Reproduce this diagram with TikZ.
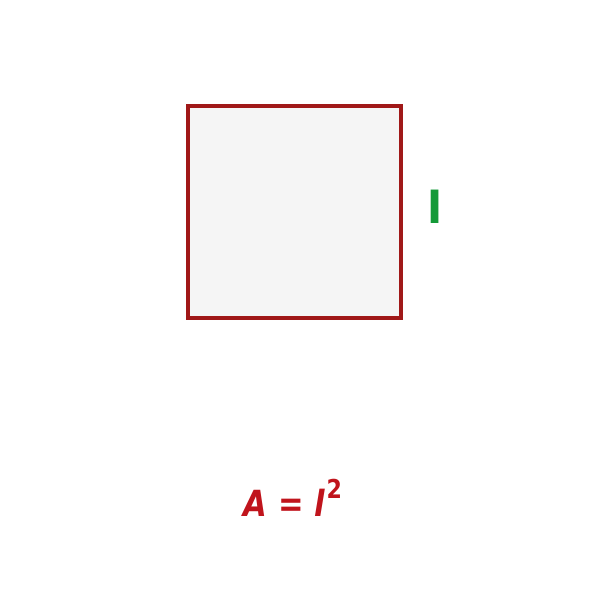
\documentclass[tikz,border=0pt]{standalone}
\usepackage{fontspec}
\setmainfont{DejaVu Sans}
\definecolor{sqred}{HTML}{A01818}
\definecolor{sqfill}{HTML}{F5F5F5}
\definecolor{lgreen}{HTML}{149A38}
\definecolor{fred}{HTML}{C0141C}
\begin{document}
\begin{tikzpicture}[x=1pt,y=-1pt,
  sqbox/.style={draw=sqred,line width=3.5pt,fill=sqfill,minimum width=213pt,minimum height=212pt,inner sep=0pt},
  sidelabel/.style={text=lgreen,font=\fontsize{44}{44}\selectfont\bfseries,inner sep=0pt},
  formula/.style={text=fred,font=\fontsize{36}{36}\selectfont\bfseries\itshape,inner sep=0pt}]
\useasboundingbox (0,0) rectangle (600,600);
\node[sqbox] (sq) at (294.5,212) {};
\node[sidelabel] (l) at (435,207) {l};
\node[formula] (f) at (293,498) {\scalebox{0.85}[1]{A = l\kern2pt\raisebox{0.5em}{\fontsize{26}{26}\selectfont\upshape 2}}};
\end{tikzpicture}
\end{document}
